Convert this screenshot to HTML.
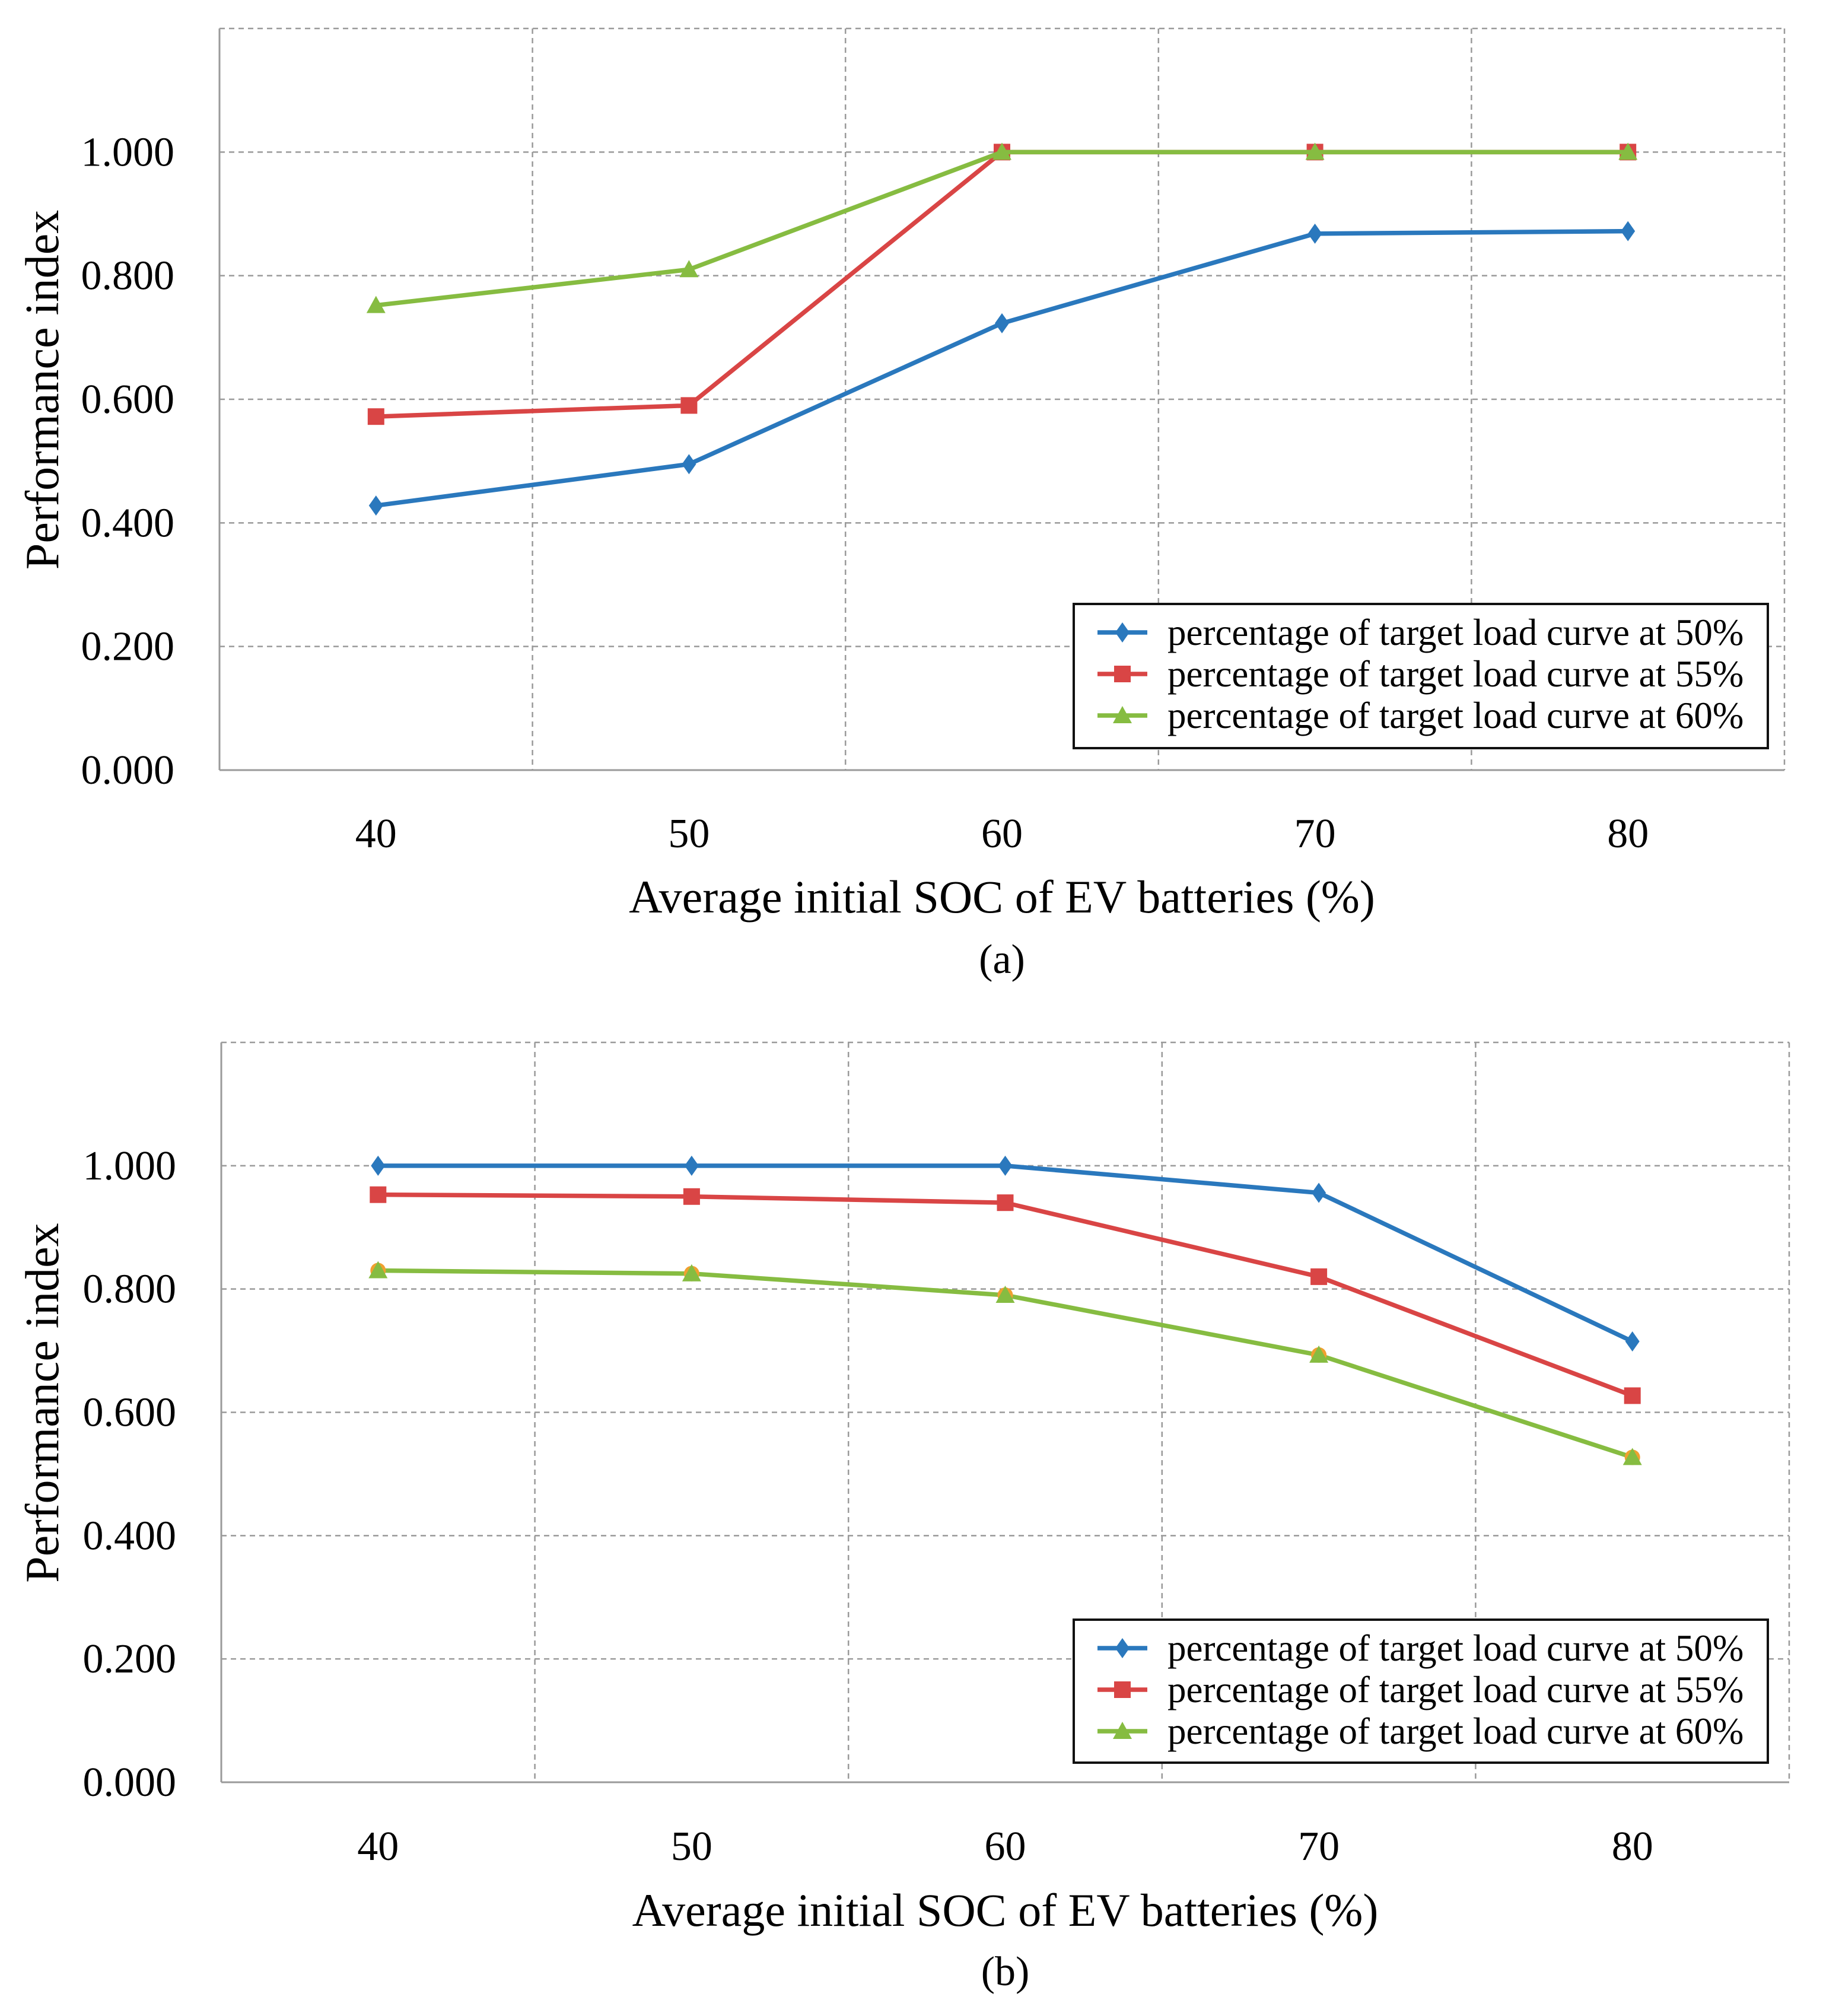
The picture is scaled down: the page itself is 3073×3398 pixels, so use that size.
<!DOCTYPE html>
<html><head><meta charset="utf-8">
<style>
html,body{margin:0;padding:0;background:#fff;}
svg{display:block;font-family:"Liberation Serif",serif;}
</style></head>
<body>
<svg id="svg" width="3073" height="3398" viewBox="0 0 3073 3398" xmlns="http://www.w3.org/2000/svg"></svg>
<script>
const categories = ["40","50","60","70","80"];
const yTicks = [0,0.2,0.4,0.6,0.8,1.0];
const yTickLabels = ["0.000","0.200","0.400","0.600","0.800","1.000"];
const seriesNames = ["percentage of target load curve at 50%","percentage of target load curve at 55%","percentage of target load curve at 60%"];
const aBlue = [0.428,0.495,0.723,0.868,0.872];
const aRed = [0.572,0.590,1.0,1.0,1.0];
const aGreen = [0.752,0.810,1.0,1.0,1.0];
const bBlue = [1.0,1.0,1.0,0.956,0.715];
const bRed = [0.953,0.950,0.940,0.820,0.627];
const bGreen = [0.830,0.825,0.790,0.693,0.527];

const NS="http://www.w3.org/2000/svg";
const svg=document.getElementById('svg');
const colors=["#2a78bd","#d94545","#86bc41"];
const markers=["diamond","square","triangle"];
function mk(tag,attrs,parent){const e=document.createElementNS(NS,tag);for(const k in attrs)e.setAttribute(k,attrs[k]);(parent||svg).appendChild(e);return e;}
function marker(g,type,x,y,c){
  let e;
  if(type==="diamond"){e=mk('polygon',{points:`${x},${y-17} ${x+12},${y} ${x},${y+17} ${x-12},${y}`,fill:c},g);}
  else if(type==="square"){e=mk('rect',{x:x-14,y:y-14,width:28,height:28,fill:c},g);}
  else if(type==="circle"){e=mk('circle',{cx:x,cy:y,r:13,fill:c},g);}
  else {e=mk('polygon',{points:`${x},${y-16} ${x+16},${y+13} ${x-16},${y+13}`,fill:c},g);}
  
  
}
function chart(cfg){
  const {L,R,T,B,data,label,prefix,tickY,titleY,capY,legTop,legH,orange}=cfg;
  const g=mk('g',{});
  
  
  const ymax=1.2;
  const ys=v=>B-(v/ymax)*(B-T);
  const bw=(R-L)/categories.length;
  const xs=i=>L+bw*(i+0.5);
  yTicks.concat([1.2]).forEach(v=>{if(v===0)return;
    const l=mk('line',{x1:L,x2:R,y1:ys(v),y2:ys(v),stroke:"#9a9a9a","stroke-width":2.5,"stroke-dasharray":"9,7"},g);
    
    });
  for(let i=1;i<=categories.length;i++){const x=L+bw*i;
    const l=mk('line',{x1:x,x2:x,y1:T,y2:B,stroke:"#9a9a9a","stroke-width":2.5,"stroke-dasharray":"9,7"},g);
    
    }
  const ax=mk('line',{x1:L,x2:L,y1:T,y2:B,stroke:"#9a9a9a","stroke-width":3},g);
  
  
  const bx=mk('line',{x1:L,x2:R,y1:B,y2:B,stroke:"#9a9a9a","stroke-width":3},g);
  
  
  yTicks.forEach((v,i)=>{const t=mk('text',{x:L-76,y:ys(v)+23,"text-anchor":"end","font-size":70},g);t.textContent=yTickLabels[i];
    
    });
  categories.forEach((c,i)=>{const t=mk('text',{x:xs(i),y:tickY,"text-anchor":"middle","font-size":70},g);t.textContent=c;
    
    });
  const yt=mk('text',{x:0,y:0,"text-anchor":"middle","font-size":80,transform:`translate(98,${(ys(0.1)+ys(1.2))/2+36}) rotate(-90)`},g);
  yt.textContent="Performance index";
  
  
  const xt=mk('text',{x:(L+R)/2,y:titleY,"text-anchor":"middle","font-size":78},g);
  xt.textContent="Average initial  SOC of EV batteries (%)";
  
  
  const cp=mk('text',{x:(L+R)/2,y:capY,"text-anchor":"middle","font-size":70},g);
  cp.textContent=label;
  
  
  data.forEach((d,si)=>{
    const pts=d.map((v,i)=>`${xs(i)},${ys(v)}`).join(' ');
    const pl=mk('polyline',{points:pts,fill:"none",stroke:colors[si],"stroke-width":7.5},g);
    
    
    d.forEach((v,i)=>{ if(orange&&si===2) marker(g,"circle",xs(i),ys(v),"#f0a030"); marker(g,markers[si],xs(i),ys(v),colors[si]);});
  });
  const lg=mk('g',{},g);
  
  
  const lr=mk('rect',{x:1810,y:legTop,width:1170,height:legH,fill:"#fff",stroke:"#111","stroke-width":4},lg);
  
  
  seriesNames.forEach((n,si)=>{const y=legTop+48+si*70;
    const l=mk('line',{x1:1850,x2:1934,y1:y,y2:y,stroke:colors[si],"stroke-width":7.5},lg);
    
    
    marker(lg,markers[si],1892,y,colors[si]);
    const t=mk('text',{x:1968,y:y+21,"font-size":63},lg);t.textContent=n;
    
    });
}
chart({L:370,R:3008,T:48,B:1298,data:[aBlue,aRed,aGreen],label:"(a)",prefix:"a",tickY:1428,titleY:1538,capY:1640,legTop:1018,legH:243});
chart({L:373,R:3016,T:1757,B:3004,data:[bBlue,bRed,bGreen],label:"(b)",prefix:"b",tickY:3135,titleY:3246,capY:3346,legTop:2730,legH:241,orange:true});
</script>
</body></html>
